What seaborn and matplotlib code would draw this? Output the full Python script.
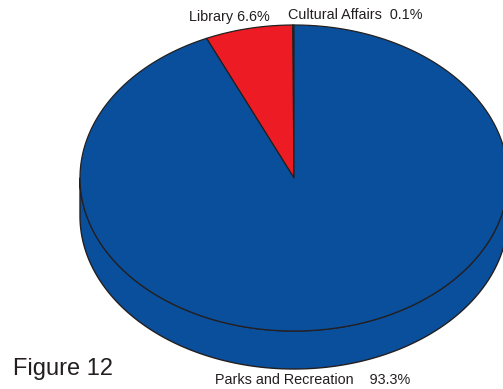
import numpy as np
import matplotlib
matplotlib.use("Agg")
import matplotlib.pyplot as plt
from matplotlib.patches import Polygon
import seaborn as sns

# Budget shares by department
departments = ["Cultural Affairs", "Library", "Parks and Recreation"]
shares = [0.1, 6.6, 93.3]
label_texts = ["Cultural Affairs  0.1%", "Library 6.6%", "Parks and Recreation    93.3%"]

sns.set_style("white")
plt.rcParams["font.family"] = ["Liberation Sans", "DejaVu Sans"]

colors = sns.color_palette(["#3ab54a", "#ed1c24", "#0a4f9c"])
edge = "#231f20"

W, H = 503, 389
fig = plt.figure(figsize=(W / 100, H / 100), dpi=100)
ax = fig.add_axes([0, 0, 1, 1])
ax.set_xlim(0, W)
ax.set_ylim(H, 0)
ax.axis("off")

# Ellipse geometry of the tilted pie
cx, cy, rx, ry, depth = 294, 178, 214, 153, 38


def pt(theta_deg, dy=0.0):
    t = np.radians(theta_deg)
    return np.column_stack([cx + rx * np.cos(t), cy - ry * np.sin(t) + dy])


# Wedge angles, counter-clockwise from 12 o'clock
fractions = np.array(shares) / np.sum(shares)
bounds = 90 + 360 * np.concatenate([[0], np.cumsum(fractions)])

# Side wall (front half of the disc), colored by the wedge that covers it
for i in range(len(shares)):
    a0, a1 = bounds[i], bounds[i + 1]
    for lo, hi in [(180, 360), (540, 720)]:
        s, e = max(a0, lo), min(a1, hi)
        if e <= s:
            continue
        th = np.linspace(s, e, 200)
        top = pt(th)
        bot = pt(th[::-1], depth)
        ax.add_patch(Polygon(np.vstack([top, bot]), closed=True,
                             facecolor=colors[i], edgecolor=edge, lw=1.0,
                             joinstyle="round"))

# Top face wedges
for i in range(len(shares)):
    th = np.linspace(bounds[i], bounds[i + 1], max(4, int((bounds[i + 1] - bounds[i]) * 2)))
    verts = np.vstack([[[cx, cy]], pt(th)])
    ax.add_patch(Polygon(verts, closed=True, facecolor=colors[i],
                         edgecolor=edge, lw=0.9, joinstyle="round"))

# Slice labels
ax.text(288, 15, label_texts[0], fontsize=10.4, color="#231f20",
        ha="left", va="center")
ax.text(189, 17, label_texts[1], fontsize=10.4, color="#231f20",
        ha="left", va="center")
ax.text(215, 380, label_texts[2], fontsize=10.4, color="#231f20",
        ha="left", va="center")

ax.text(13, 369, "Figure 12", fontsize=17, color="#231f20",
        ha="left", va="center")

fig.savefig("out.png", dpi=100)
